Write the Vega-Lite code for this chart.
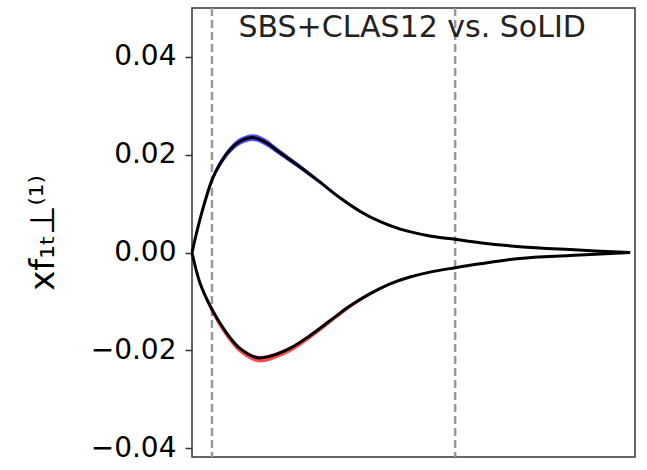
{
  "$schema": "https://vega.github.io/schema/vega-lite/v6.json",
  "width": 443,
  "height": 449,
  "autosize": {"type": "none"},
  "padding": {"left": 192, "top": 8, "right": 12, "bottom": 13},
  "config": {"view": {"stroke": "#333", "strokeWidth": 1.5}, "font": "DejaVu Sans"},
  "datasets": {
    "curves": [
      {"series": "u", "x": 0.0, "v": 0.0, "lo": 0.0, "hi": 0.0},
      {"series": "u", "x": 0.018, "v": 0.0068, "lo": 0.0064, "hi": 0.0072},
      {"series": "u", "x": 0.045, "v": 0.0148, "lo": 0.0142, "hi": 0.0154},
      {"series": "u", "x": 0.063, "v": 0.0181, "lo": 0.0174, "hi": 0.0188},
      {"series": "u", "x": 0.086, "v": 0.0210, "lo": 0.0203, "hi": 0.0217},
      {"series": "u", "x": 0.108, "v": 0.0227, "lo": 0.0220, "hi": 0.0234},
      {"series": "u", "x": 0.138, "v": 0.0235, "lo": 0.0228, "hi": 0.0242},
      {"series": "u", "x": 0.165, "v": 0.0226, "lo": 0.0219, "hi": 0.0233},
      {"series": "u", "x": 0.199, "v": 0.0204, "lo": 0.0198, "hi": 0.0210},
      {"series": "u", "x": 0.244, "v": 0.0175, "lo": 0.0170, "hi": 0.0180},
      {"series": "u", "x": 0.289, "v": 0.0144, "lo": 0.0140, "hi": 0.0148},
      {"series": "u", "x": 0.334, "v": 0.0112, "lo": 0.0109, "hi": 0.0115},
      {"series": "u", "x": 0.380, "v": 0.0084, "lo": 0.0081, "hi": 0.0087},
      {"series": "u", "x": 0.425, "v": 0.0063, "lo": 0.0061, "hi": 0.0065},
      {"series": "u", "x": 0.470, "v": 0.0048, "lo": 0.0046, "hi": 0.0050},
      {"series": "u", "x": 0.537, "v": 0.0034, "lo": 0.0032, "hi": 0.0036},
      {"series": "u", "x": 0.594, "v": 0.0027, "lo": 0.0025, "hi": 0.0029},
      {"series": "u", "x": 0.650, "v": 0.0020, "lo": 0.0019, "hi": 0.0021},
      {"series": "u", "x": 0.740, "v": 0.0012, "lo": 0.0011, "hi": 0.0013},
      {"series": "u", "x": 0.853, "v": 0.0006, "lo": 0.0005, "hi": 0.0007},
      {"series": "u", "x": 0.989, "v": 0.0, "lo": 0.0, "hi": 0.0},
      {"series": "d", "x": 0.0, "v": 0.0, "lo": 0.0, "hi": 0.0},
      {"series": "d", "x": 0.018, "v": -0.0062, "lo": -0.0068, "hi": -0.0059},
      {"series": "d", "x": 0.045, "v": -0.0116, "lo": -0.0124, "hi": -0.0112},
      {"series": "d", "x": 0.063, "v": -0.0144, "lo": -0.0153, "hi": -0.0140},
      {"series": "d", "x": 0.086, "v": -0.0174, "lo": -0.0183, "hi": -0.0170},
      {"series": "d", "x": 0.108, "v": -0.0196, "lo": -0.0205, "hi": -0.0192},
      {"series": "d", "x": 0.147, "v": -0.0215, "lo": -0.0224, "hi": -0.0211},
      {"series": "d", "x": 0.176, "v": -0.0212, "lo": -0.0221, "hi": -0.0208},
      {"series": "d", "x": 0.221, "v": -0.0196, "lo": -0.0204, "hi": -0.0192},
      {"series": "d", "x": 0.266, "v": -0.0170, "lo": -0.0177, "hi": -0.0167},
      {"series": "d", "x": 0.312, "v": -0.0139, "lo": -0.0145, "hi": -0.0136},
      {"series": "d", "x": 0.357, "v": -0.0109, "lo": -0.0114, "hi": -0.0106},
      {"series": "d", "x": 0.402, "v": -0.0084, "lo": -0.0088, "hi": -0.0082},
      {"series": "d", "x": 0.447, "v": -0.0064, "lo": -0.0067, "hi": -0.0062},
      {"series": "d", "x": 0.492, "v": -0.0050, "lo": -0.0052, "hi": -0.0048},
      {"series": "d", "x": 0.537, "v": -0.0040, "lo": -0.0042, "hi": -0.0039},
      {"series": "d", "x": 0.594, "v": -0.0031, "lo": -0.0033, "hi": -0.0030},
      {"series": "d", "x": 0.650, "v": -0.0023, "lo": -0.0025, "hi": -0.0022},
      {"series": "d", "x": 0.740, "v": -0.0012, "lo": -0.0013, "hi": -0.0011},
      {"series": "d", "x": 0.853, "v": -0.0006, "lo": -0.0007, "hi": -0.0005},
      {"series": "d", "x": 0.989, "v": 0.0, "lo": 0.0, "hi": 0.0}
    ],
    "dashes": [{"x": 0.045}, {"x": 0.594}],
    "label": [{"text": "SBS+CLAS12 vs. SoLID", "x": 0.497, "y": 0.0441}]
  },
  "layer": [
    {
      "data": {"name": "dashes"},
      "mark": {"type": "rule", "color": "#999", "strokeWidth": 2.5, "strokeDash": [8, 4]},
      "encoding": {"x": {"field": "x", "type": "quantitative", "scale": {"domain": [0, 1], "nice": false}, "axis": null}}
    },
    {
      "mark": {"type": "rule", "color": "#555", "strokeWidth": 1},
      "encoding": {"y": {"datum": 0, "type": "quantitative"}}
    },
    {
      "data": {"name": "curves"},
      "mark": {"type": "area", "interpolate": "catmull-rom", "opacity": 0.7},
      "encoding": {
        "x": {"field": "x", "type": "quantitative"},
        "y": {"field": "lo", "type": "quantitative", "scale": {"domain": [-0.0418, 0.05], "nice": false, "zero": false},
              "axis": {"values": [-0.04, -0.02, 0, 0.02, 0.04], "format": ".2f", "grid": false, "domain": false,
                       "labelFontSize": 28, "labelColor": "#000", "labelPadding": 9, "tickSize": 7, "tickWidth": 1.5, "tickColor": "#333",
                       "title": "xf₁ₜ⊥⁽¹⁾", "titleFontSize": 34, "titleFontWeight": "normal", "titleColor": "#000", "titlePadding": 30}},
        "y2": {"field": "hi"},
        "color": {"field": "series", "type": "nominal", "scale": {"domain": ["u", "d"], "range": ["#0000ff", "#ff0000"]}, "legend": null}
      }
    },
    {
      "data": {"name": "curves"},
      "mark": {"type": "line", "interpolate": "catmull-rom", "color": "#000", "strokeWidth": 3},
      "encoding": {
        "x": {"field": "x", "type": "quantitative"},
        "y": {"field": "v", "type": "quantitative"},
        "detail": {"field": "series"}
      }
    },
    {
      "data": {"name": "label"},
      "mark": {"type": "text", "fontSize": 30, "font": "DejaVu Sans", "color": "#222", "baseline": "alphabetic", "align": "center"},
      "encoding": {
        "x": {"field": "x", "type": "quantitative"},
        "y": {"field": "y", "type": "quantitative"},
        "text": {"field": "text"}
      }
    }
  ]
}
